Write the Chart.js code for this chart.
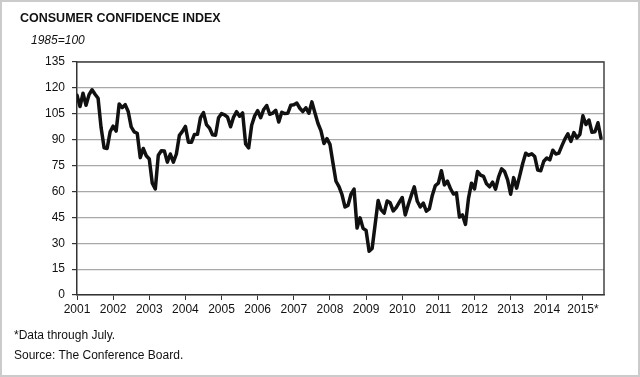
<!DOCTYPE html>
<html><head><meta charset="utf-8">
<script src="https://cdn.jsdelivr.net/npm/chart.js@4.4.0/dist/chart.umd.min.js"></script>
<style>
html,body{margin:0;padding:0;background:#fff;}
#wrap{position:relative;width:640px;height:377px;overflow:hidden;font-family:"Liberation Sans",Arial,sans-serif;color:#111;}
#c{position:absolute;left:0;top:0;}
.t{position:absolute;white-space:nowrap;line-height:1;}
#frame{position:absolute;left:0;top:0;width:640px;height:377px;box-sizing:border-box;border:2px solid #cbcbcb;pointer-events:none;}
</style></head><body>
<div id="wrap">
<canvas id="c" width="640" height="377" style="width:640px;height:377px"></canvas>
<div class="t" style="left:20px;top:12px;font-weight:bold;font-size:12.5px;">CONSUMER CONFIDENCE INDEX</div>
<div class="t" style="left:31px;top:34px;font-style:italic;font-size:12px;">1985=100</div>
<div class="t" style="left:14px;top:329px;font-size:12px;">*Data through July.</div>
<div class="t" style="left:14px;top:349px;font-size:12px;">Source: The Conference Board.</div>
<div id="frame"></div>
</div>
<script>
// Year tick labels (January of each year)
const yearLabels = ["2001","2002","2003","2004","2005","2006","2007","2008","2009","2010","2011","2012","2013","2014","2015*"];
// Monthly index values, Jan 2001 - Jul 2015
const cci = [
 115.7,109.2,116.9,109.9,116.1,118.9,116.3,114.0,97.0,85.3,84.9,94.6,
 97.8,95.0,110.7,108.5,110.3,106.3,97.4,94.5,93.7,79.6,84.9,80.7,
 78.8,64.8,61.4,81.0,83.6,83.5,77.0,81.7,77.0,81.7,92.5,94.8,
 97.7,88.5,88.5,93.0,93.1,102.8,105.7,98.7,96.7,92.9,92.6,102.7,
 105.1,104.4,103.0,97.5,103.1,106.2,103.6,105.5,87.5,85.2,98.3,103.8,
 106.8,102.7,107.5,109.8,104.7,105.4,107.0,100.2,105.9,105.1,105.3,110.0,
 110.2,111.2,108.2,106.3,108.5,105.3,111.9,105.6,99.5,95.2,87.8,90.6,
 87.3,76.4,65.9,62.8,58.1,51.0,51.9,58.5,61.4,38.8,44.7,38.6,
 37.4,25.3,26.9,40.8,54.8,49.3,47.4,54.5,53.4,48.7,50.6,53.6,
 56.5,46.4,52.3,57.7,62.7,54.3,51.0,53.2,48.6,49.9,57.8,63.4,
 64.8,72.0,63.8,66.0,61.7,58.5,59.2,45.2,46.4,40.9,56.0,64.8,
 61.5,71.6,69.5,68.7,64.4,62.7,65.4,61.3,68.4,73.1,71.5,66.7,
 58.4,68.0,61.9,69.0,76.2,82.1,81.0,81.8,80.2,72.4,72.0,77.5,
 79.4,78.3,83.9,81.7,82.2,86.4,90.3,93.4,89.0,94.1,91.0,93.1,
 103.8,98.8,101.4,94.3,94.6,99.8,90.9
];
const yTickStep = 15, yMin = 0, yMax = 135;

const points = cci.map((v, i) => ({x: i, y: v}));
const font = {family: '"Liberation Sans", Arial, sans-serif', size: 12};

const framePlugin = {
  id: 'frame',
  afterDatasetsDraw(chart) {
    const {ctx, chartArea: a} = chart;
    ctx.save();
    ctx.strokeStyle = '#444';
    ctx.lineWidth = 1.5;
    ctx.beginPath();
    ctx.moveTo(a.left, a.top);
    ctx.lineTo(a.right, a.top);
    ctx.lineTo(a.right, a.bottom);
    ctx.stroke();
    ctx.restore();
  }
};

new Chart(document.getElementById('c'), {
  type: 'line',
  data: {datasets: [{
    data: points,
    borderColor: '#111',
    borderWidth: 3.5,
    pointRadius: 0,
    tension: 0,
    borderJoinStyle: 'round',
    borderCapStyle: 'round',
    fill: false
  }]},
  options: {
    responsive: false,
    animation: false,
    layout: {padding: {left: 0, right: 36, top: 62, bottom: 52}},
    plugins: {legend: {display: false}, tooltip: {enabled: false}, title: {display: false}},
    scales: {
      x: {
        type: 'linear', min: 0, max: 175,
        afterFit(s) { s.height = 30; },
        grid: {drawOnChartArea: false, drawTicks: true, tickLength: 5, tickColor: '#333', tickWidth: 1},
        border: {color: '#333', width: 1.5},
        ticks: {
          stepSize: 12, includeBounds: false, autoSkip: false, maxRotation: 0, minRotation: 0,
          padding: 2, color: '#111', font,
          callback: (v) => (v % 12 === 0 ? yearLabels[v / 12] : '')
        }
      },
      y: {
        min: yMin, max: yMax,
        afterFit(s) { s.width = 77; },
        grid: {color: '#a8a8a8', lineWidth: 1.2, tickLength: 5, tickColor: '#333'},
        border: {color: '#333', width: 1.5},
        ticks: {stepSize: yTickStep, padding: 7, color: '#111', font}
      }
    }
  },
  plugins: [framePlugin]
});
</script>
</body></html>
